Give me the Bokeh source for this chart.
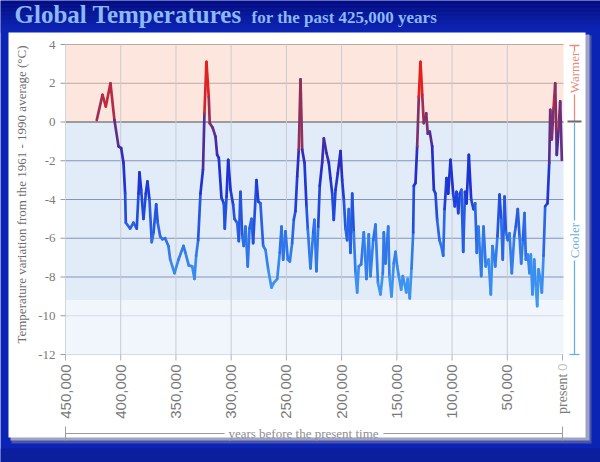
import numpy as np
from bokeh.plotting import figure
from bokeh.models import Range1d
from bokeh.core.properties import value
from bokeh.embed import file_html
from bokeh.resources import INLINE

# ---- data: years before present, temperature anomaly (deg C) ----
years_bp = [421700, 416500, 413500, 409300, 405700, 402000, 399600, 397500, 396000, 395400,
            391500, 388500, 385500, 383900, 383000, 381500, 379400, 377300, 375800, 374000,
            371900, 370300, 367900, 366500, 364300, 362200, 359800, 356800, 355200, 351300,
            347700, 343200, 341400, 338400, 335300, 333200, 331700, 329900, 327800, 325500,
            324200, 322400, 320300, 319400, 316700, 314200, 312700, 311200, 308800, 306700,
            305800, 304200, 302700, 300600, 298200, 297000, 294600, 293100, 291600, 290000,
            288600, 287000, 285000, 283400, 281600, 280100, 277100, 275500, 273500, 271000,
            268900, 266500, 263500, 261400, 258300, 256000, 254400, 252900, 250800, 248700,
            246900, 244800, 243300, 241800, 240200, 238800, 237200, 235700, 233600, 231800,
            230600, 228200, 225700, 224600, 222800, 221200, 219800, 217600, 216100, 213700,
            211600, 210100, 208500, 207100, 205500, 203500, 201000, 199500, 198000, 196500,
            195000, 193500, 192000, 190400, 189000, 187400, 185900, 184500, 182300, 179900,
            177500, 175400, 173900, 171400, 169300, 167100, 164800, 162700, 161800, 160300,
            157800, 156700, 154800, 152800, 151200, 149700, 148200, 146100, 144600, 142800,
            141500, 140100, 138300, 136700, 135200, 134600, 133100, 131600, 130100, 128600,
            127000, 125600, 123400, 122000, 120200, 118000, 116500, 115000, 113500, 111400,
            109800, 108000, 106800, 105000, 103500, 101400, 99000, 97500, 96000, 94400,
            93000, 91500, 89900, 88300, 86900, 84800, 82700, 80600, 79100, 77600,
            76100, 73600, 71500, 69500, 67000, 64900, 63400, 60900, 58900, 57000,
            55500, 54100, 52500, 51300, 49500, 48000, 45900, 43700, 42300, 40500,
            38900, 37400, 35900, 34400, 33200, 31400, 29900, 28700, 27200, 25600,
            24200, 22900, 21700, 20200, 18700, 17200, 15700, 13600, 12000, 11100,
            9700, 8100, 6600, 5200, 3600, 2100, 600]
temp_c = [0.1, 1.4, 0.8, 2.0, 0.1, -1.26, -1.35, -2.1, -3.7, -5.2,
          -5.5, -5.2, -5.5, -3.7, -2.6, -3.5, -5.0, -3.7, -3.07, -4.0,
          -6.2, -5.7, -4.25, -5.2, -5.9, -6.05, -6.0, -6.4, -7.1, -7.8,
          -7.1, -6.4, -6.75, -7.4, -7.45, -8.1, -6.9, -6.1, -3.7, -2.45,
          0.45, 3.1, 1.3, -0.06, -0.3, -0.75, -1.7, -1.85, -3.9, -4.2,
          -5.5, -3.85, -1.95, -3.5, -4.27, -5.0, -5.2, -6.15, -3.6, -5.9,
          -6.4, -5.4, -7.45, -5.5, -5.0, -6.25, -3.0, -4.1, -4.2, -6.4,
          -6.6, -7.6, -8.55, -8.3, -8.1, -6.75, -5.4, -7.1, -5.65, -7.1,
          -7.2, -6.25, -5.05, -4.6, -2.8, -1.43, 2.2, -1.43, -2.1, -4.35,
          -5.55, -7.55, -5.7, -5.05, -7.7, -5.4, -3.3, -2.1, -0.85, -1.6,
          -2.1, -2.9, -3.7, -5.05, -3.5, -2.65, -1.5, -3.0, -4.0, -5.5,
          -6.1, -4.5, -6.75, -3.7, -5.7, -7.8, -8.8, -7.45, -7.35, -5.7,
          -8.1, -5.8, -7.95, -6.1, -5.3, -8.3, -8.9, -7.8, -5.7, -7.3,
          -5.4, -7.95, -9.0, -7.3, -6.7, -7.45, -7.95, -8.65, -7.95, -8.4,
          -8.8, -8.1, -9.1, -7.55, -5.7, -3.3, -3.15, -1.26, 1.3, 3.1,
          1.4, -0.06, 0.45, -0.6, -0.5, -1.26, -3.5, -3.7, -5.05, -6.1,
          -6.4, -6.9, -4.5, -2.9, -3.7, -1.95, -3.7, -4.35, -3.6, -4.7,
          -3.7, -3.5, -6.7, -3.6, -4.2, -1.7, -4.0, -4.5, -4.2, -6.75,
          -5.4, -7.95, -5.4, -7.45, -7.1, -8.9, -6.4, -7.45, -5.9, -3.75,
          -5.05, -7.1, -3.85, -5.65, -6.1, -5.75, -7.8, -5.9, -5.4, -4.5,
          -5.9, -7.3, -6.1, -4.7, -7.1, -6.85, -7.8, -6.85, -8.9, -7.1,
          -8.5, -9.5, -7.6, -8.1, -8.8, -6.9, -4.35, -4.2, -2.1, 0.63,
          -0.9, 0.71, 2.0, -1.7, -0.4, 1.06, -1.95]

y_ticks = [4, 2, 0, -2, -4, -6, -8, -10, -12]
y_tick_labels = ["4", "2", "0", "-2", "-4", "-6", "-8", "-10", "-12"]
x_ticks = [450000, 400000, 350000, 300000, 250000, 200000, 150000, 100000, 50000]
x_tick_labels = ["450,000", "400,000", "350,000", "300,000", "250,000",
                 "200,000", "150,000", "100,000", "50,000"]
present_tick = 0
present_label = "present"

x_start, x_end = 450000, -900      # plotted span (years before present)
y_bottom, y_top = -12, 4           # plotted span (deg C)
warm_band = (0, 4)
cool_band = (-9.2, 0)
cold_band = (-12, -9.2)

# ---- page layout (pixels) ----
W, H = 600, 462
FL, FR, FT, FB = 65, 563, 44, 354
KX = (x_start - x_end) / (FR - FL)     # years per pixel
KY = (y_top - y_bottom) / (FB - FT)    # degrees per pixel


def X(px):
    return x_start - (px - FL) * KX


def Y(py):
    return y_top - (py - FT) * KY


SERIF = value("Liberation Serif")
SANS = value("Liberation Sans")

p = figure(width=W, height=H, x_range=Range1d(X(0), X(W)), y_range=Range1d(Y(H), Y(0)),
           output_backend="svg", toolbar_location=None, title=None,
           x_axis_location=None, y_axis_location=None, min_border=0,
           background_fill_color="#0c24b6", border_fill_color="#0c24b6",
           outline_line_color=None)
p.xgrid.visible = False
p.ygrid.visible = False


def pquad(l, r, t, b, color, alpha=1.0):
    p.quad(left=X(l), right=X(r), top=Y(t), bottom=Y(b), fill_color=color,
           fill_alpha=alpha, line_color=None)


def pseg(x0, y0, x1, y1, color, width=1.0):
    p.segment(x0=X(x0), y0=Y(y0), x1=X(x1), y1=Y(y1), line_color=color, line_width=width)


# ---- blue frame with darker top ----
top_cols = ["#040d82", "#061189", "#071590", "#081897", "#0a1b9e", "#0b1fa6", "#0c22ae", "#0c24b6"]
for i, c in enumerate(top_cols):
    pquad(0, W, i * 4, i * 4 + 4, c)
pquad(0, W, 448, 462, "#0a1e9e")
# shadow + white panel
pquad(11, 591, 35, 443, "#4a55a8")
pquad(10, 589, 34, 440, "#9ca2c8")
pquad(8, 585, 32, 437, "#ffffff")

# ---- plot background bands ----
p.quad(left=x_start, right=x_end, bottom=warm_band[0], top=warm_band[1], fill_color="#fde6dd", line_color=None)
p.quad(left=x_start, right=x_end, bottom=cool_band[0], top=cool_band[1], fill_color="#e2ecf9", line_color=None)
p.quad(left=x_start, right=x_end, bottom=cold_band[0], top=cold_band[1], fill_color="#f1f6fc", line_color=None)

# ---- grid lines ----
hcols = []
for t in y_ticks:
    if t == 0:
        hcols.append("#4d4d4d")
    elif t > 0:
        hcols.append("#bca9a4")
    elif t >= -8:
        hcols.append("#8595b8")
    else:
        hcols.append("#d3dbea")
p.segment(x0=[x_start] * len(y_ticks), y0=y_ticks, x1=[x_end] * len(y_ticks), y1=y_ticks,
          line_color=hcols, line_width=1)
p.segment(x0=x_ticks[1:], y0=[y_bottom] * (len(x_ticks) - 1), x1=x_ticks[1:],
          y1=[y_top] * (len(x_ticks) - 1), line_color="#c8cbd4", line_width=1)
p.segment(x0=[x_start], y0=[y_bottom], x1=[x_start], y1=[y_top], line_color="#d2d6de", line_width=1)

# ---- temperature line, coloured by value ----
stops_t = [-9.5, -7.5, -5.5, -4.0, -2.5, -1.2, 0.0, 1.0, 2.0, 3.2]
stops_r = [70, 56, 42, 30, 32, 70, 125, 175, 225, 245]
stops_g = [160, 138, 102, 66, 46, 44, 50, 45, 35, 20]
stops_b = [244, 238, 230, 218, 206, 165, 108, 76, 35, 15]
xs = np.array(years_bp, dtype=float)
ys = np.array(temp_c, dtype=float)
mid = (ys[:-1] + ys[1:]) / 2
cols = ["#%02x%02x%02x" % (int(np.interp(m, stops_t, stops_r)),
                           int(np.interp(m, stops_t, stops_g)),
                           int(np.interp(m, stops_t, stops_b))) for m in mid]
p.segment(x0=xs[:-1], y0=ys[:-1], x1=xs[1:], y1=ys[1:], line_color=cols,
          line_width=2.7, line_cap="round", line_join="round")

# ---- left axis: ticks, labels, title ----
p.segment(x0=[X(FL - 5)] * len(y_ticks), y0=y_ticks, x1=[x_start] * len(y_ticks), y1=y_ticks,
          line_color="#9a9a9a", line_width=1)
p.text(x=[X(FL - 10)] * len(y_ticks), y=y_ticks, text=y_tick_labels, text_font=SERIF,
       text_font_size="13px", text_color="#7a7a7a", text_align="right", text_baseline="middle")
p.text(x=[X(21)], y=[Y(194)], text=["Temperature variation from the 1961 - 1990 average (\u00b0C)"],
       text_font=SERIF, text_font_size="13px", text_color="#6c6c6c", angle=np.pi / 2,
       text_align="center", text_baseline="middle")

# ---- bottom axis: ticks, labels ----
all_x = x_ticks + [present_tick]
p.segment(x0=all_x, y0=[y_bottom] * len(all_x), x1=all_x, y1=[Y(FB + 6)] * len(all_x),
          line_color="#b4b4b4", line_width=1)
p.text(x=x_ticks, y=[Y(FB + 10)] * len(x_ticks), text=x_tick_labels, text_font=SANS,
       text_font_size="15px", text_color="#7a7a7a", angle=np.pi / 2,
       text_align="right", text_baseline="middle")
p.text(x=[present_tick], y=[Y(FB + 9)], text=["0"], text_font=SANS, text_font_size="13px",
       text_color="#c4c4c4", angle=np.pi / 2, text_align="right", text_baseline="middle")
p.text(x=[present_tick], y=[Y(FB + 19)], text=[present_label], text_font=SERIF,
       text_font_size="14px", text_color="#7a7a7a", angle=np.pi / 2,
       text_align="right", text_baseline="middle")

# ---- bracket: years before the present time ----
gray = "#9c9c9c"
pseg(FL, 433, 224, 433, gray)
pseg(383, 433, 562, 433, gray)
pseg(FL, 426, FL, 440, gray)
pseg(562, 426, 562, 440, gray)
p.text(x=[X(303)], y=[Y(433)], text=["years before the present time"], text_font=SERIF,
       text_font_size="13px", text_color="#8e8e8e", text_align="center", text_baseline="middle")

# ---- right side: Warmer / Cooler ----
warm = "#e58b7b"
cool = "#6aaee0"
cx = 574
pseg(cx, 45, cx, 51, warm, 1.3)
pseg(cx, 94, cx, 121, warm, 1.3)
pseg(cx - 5, 45, cx + 5, 45, warm, 1.3)
pseg(cx - 7, 121, cx + 7, 121, "#6a6a6a", 2)
p.text(x=[X(cx)], y=[Y(72)], text=["Warmer"], text_font=SERIF, text_font_size="13px",
       text_color=warm, angle=np.pi / 2, text_align="center", text_baseline="middle")
pseg(cx, 122, cx, 220, cool, 1.3)
pseg(cx, 260, cx, 354, cool, 1.3)
pseg(cx - 5, 354, cx + 5, 354, cool, 1.3)
p.text(x=[X(cx)], y=[Y(240)], text=["Cooler"], text_font=SERIF, text_font_size="13px",
       text_color=cool, angle=np.pi / 2, text_align="center", text_baseline="middle")

# ---- titles ----
p.text(x=[X(14)], y=[Y(14)], text=["Global Temperatures"], text_font=SERIF,
       text_font_style="bold", text_font_size="25px", text_color="#8cb8f6",
       text_align="left", text_baseline="middle")
p.text(x=[X(251)], y=[Y(17)], text=["for the past 425,000 years"], text_font=SERIF,
       text_font_style="bold", text_font_size="17px", text_color="#8cb8f6",
       text_align="left", text_baseline="middle")

open("out.html", "w").write(file_html(p, INLINE))
